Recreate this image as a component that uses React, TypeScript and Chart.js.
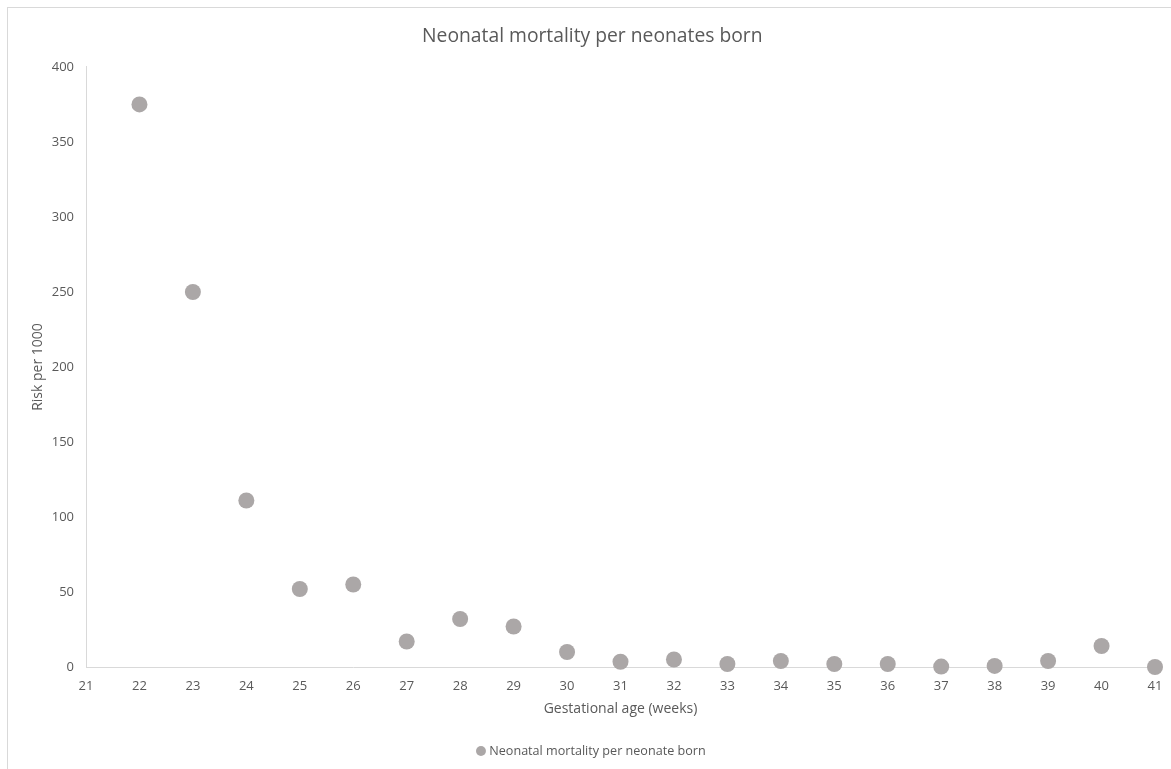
import React, { useEffect, useRef } from "react";
import { Chart, registerables } from "chart.js";

Chart.register(...registerables);

const weeks = [22, 23, 24, 25, 26, 27, 28, 29, 30, 31, 32, 33, 34, 35, 36, 37, 38, 39, 40, 41];
const riskPer1000 = [375, 250, 111, 52, 55, 17, 32, 27, 10, 3.5, 5, 2, 4, 2, 2, 0.3, 0.7, 4, 14, 0];
const seriesLabel = "Neonatal mortality per neonate born";
const chartTitle = "Neonatal mortality per neonates born";
const xTitle = "Gestational age (weeks)";
const yTitle = "Risk per 1000";

const FONT = "'Open Sans', 'Liberation Sans', sans-serif";
const TEXT = "#595959";
const LINE = "#d9d9d9";
const MARK = "#aba7a7";

export default function App() {
  const ref = useRef<HTMLCanvasElement | null>(null);
  useEffect(() => {
    document.body.style.overflow = "hidden";
    document.documentElement.style.overflow = "hidden";
    const ctx = ref.current!.getContext("2d")!;
    const chart = new Chart(ctx, {
      type: "scatter",
      data: {
        datasets: [
          {
            label: seriesLabel,
            data: weeks.map((w, i) => ({ x: w, y: riskPer1000[i] })),
            backgroundColor: MARK,
            borderColor: MARK,
            pointRadius: 8,
            pointHoverRadius: 8,
            borderWidth: 0,
            clip: false,
          } as any,
        ],
      },
      options: {
        responsive: false,
        animation: false,
        layout: { padding: { left: 21.6, right: 37, top: 0, bottom: 1.7 } },
        plugins: {
          title: {
            display: true,
            text: chartTitle,
            color: TEXT,
            font: { family: FONT, size: 19.3, weight: "normal" },
            padding: { top: 17.4, bottom: 18.4 },
          },
          legend: {
            position: "bottom",
            labels: {
              color: TEXT,
              font: { family: FONT, size: 12.6 },
              usePointStyle: true,
              pointStyle: "circle",
              boxWidth: 4,
              boxHeight: 7,
              padding: 10,
            },
          },
          tooltip: { enabled: false },
        },
        scales: {
          x: {
            type: "linear",
            min: 21,
            max: 41,
            ticks: {
              stepSize: 1,
              color: TEXT,
              font: { family: FONT, size: 13 },
              padding: 11,
              maxRotation: 0,
            },
            grid: { display: false, drawTicks: false },
            border: { display: true, color: LINE, width: 1 },
            title: {
              display: true,
              text: xTitle,
              color: TEXT,
              font: { family: FONT, size: 14 },
              padding: { top: 0, bottom: 17.3 },
            },
            afterFit: (s: any) => {
              s.height = 67.7;
            },
          },
          y: {
            type: "linear",
            min: 0,
            max: 400,
            ticks: {
              stepSize: 50,
              color: TEXT,
              font: { family: FONT, size: 13 },
              padding: 12,
            },
            grid: { display: false, drawTicks: false },
            border: { display: true, color: LINE, width: 1 },
            title: {
              display: true,
              text: yTitle,
              color: TEXT,
              font: { family: FONT, size: 14 },
              padding: 0,
            },
            afterFit: (s: any) => {
              s.width = 56.4;
            },
          },
        },
      },
    });
    return () => chart.destroy();
  }, []);
  return (
    <div
      style={{
        position: "absolute",
        left: 7,
        top: 7,
        width: 1185,
        height: 762,
        borderTop: "1px solid #d9d9d9",
        borderLeft: "1px solid #d9d9d9",
        background: "#fff",
      }}
    >
      <canvas ref={ref} width={1184} height={761} style={{ display: "block" }} />
    </div>
  );
}
